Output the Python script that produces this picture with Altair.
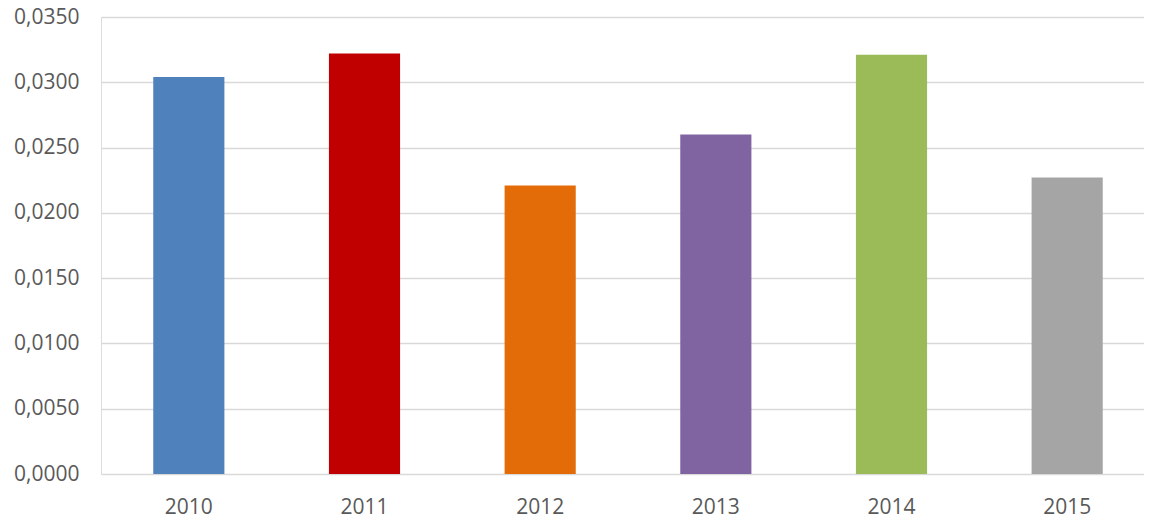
import altair as alt
import pandas as pd

years = ["2010", "2011", "2012", "2013", "2014", "2015"]
values = [0.0304, 0.0322, 0.0221, 0.0260, 0.0321, 0.0227]
colors = ["#4F81BD", "#C00000", "#E36C09", "#8064A2", "#9BBB59", "#A5A5A5"]
y_ticks = [0.0, 0.005, 0.01, 0.015, 0.02, 0.025, 0.03, 0.035]

df = pd.DataFrame({"year": years, "value": values})

chart = alt.Chart(df).mark_bar().encode(
    x=alt.X("year:N", sort=years, title=None,
            scale=alt.Scale(paddingInner=0.595, paddingOuter=0.2975),
            axis=alt.Axis(labelAngle=0, ticks=False, domain=False, labelPadding=22,
                          labelFontSize=21, labelColor="#595959", labelFont="Open Sans")),
    y=alt.Y("value:Q", title=None,
            scale=alt.Scale(domain=[0, 0.035], nice=False),
            axis=alt.Axis(values=y_ticks, ticks=False, domain=False, labelPadding=22,
                          labelExpr="replace(format(datum.value, '.4f'), '.', ',')",
                          labelFontSize=21, labelColor="#595959", labelFont="Open Sans",
                          gridColor="#D9D9D9", gridWidth=1.5)),
    color=alt.Color("year:N", scale=alt.Scale(domain=years, range=colors), legend=None),
).properties(
    width=1054, height=457,
    padding={"left": 93, "top": 9, "right": -11, "bottom": 50},
    autosize=alt.AutoSizeParams(type="none"),
).configure_view(stroke=None).configure(background="white")

chart.save("out.html", embed_options={"renderer": "svg", "actions": False})
